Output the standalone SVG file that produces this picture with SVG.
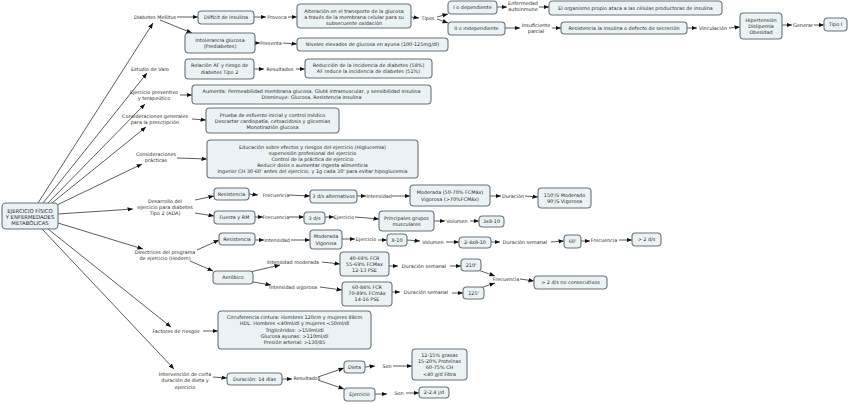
<svg xmlns="http://www.w3.org/2000/svg" width="848" height="404" viewBox="0 0 848 404">
<defs>
<marker id="ah" markerUnits="userSpaceOnUse" markerWidth="6" markerHeight="5" refX="5.5" refY="2.2" orient="auto"><path d="M0,0 L5.5,2.2 L0,4.4 z" fill="#111"/></marker>
<style>
.b{fill:#ebf2f5;stroke:#66727a;stroke-width:1.1}
.t{font-family:"DejaVu Sans",Verdana,sans-serif;font-size:4.9px;fill:#2a2a2a;text-anchor:middle}
.m{font-size:5.3px}
.c line,.c path{stroke:#333;stroke-width:0.8;fill:none;marker-end:url(#ah)}
</style>
</defs>
<rect width="848" height="404" fill="#fff"/>
<g class="c">
<line x1="38" y1="203" x2="153" y2="23"/>
<line x1="43" y1="203" x2="147" y2="73"/>
<line x1="48" y1="203" x2="145" y2="104"/>
<line x1="52" y1="203" x2="146" y2="127"/>
<line x1="57" y1="205" x2="142" y2="164"/>
<line x1="58" y1="214" x2="133" y2="209"/>
<line x1="58" y1="223" x2="143" y2="249"/>
<line x1="48" y1="229" x2="171" y2="327"/>
<line x1="42" y1="229" x2="174" y2="369"/>
<line x1="177" y1="17" x2="198" y2="17"/>
<line x1="160" y1="20" x2="192" y2="33"/>
<line x1="254" y1="17" x2="266" y2="17"/>
<line x1="288" y1="17" x2="297" y2="17"/>
<line x1="411" y1="17" x2="419" y2="18"/>
<line x1="437" y1="17" x2="448" y2="14"/>
<line x1="437" y1="19" x2="448" y2="23"/>
<line x1="497" y1="7" x2="507" y2="7"/>
<line x1="539" y1="7" x2="549" y2="7"/>
<line x1="505" y1="28" x2="520" y2="28"/>
<line x1="552" y1="28" x2="561" y2="28"/>
<line x1="687" y1="28" x2="697" y2="28"/>
<line x1="729" y1="28" x2="740" y2="27"/>
<line x1="782" y1="25" x2="792" y2="25"/>
<line x1="814" y1="25" x2="824" y2="25"/>
<line x1="255" y1="43" x2="260" y2="43"/>
<line x1="283" y1="43" x2="297" y2="44"/>
<line x1="254" y1="69" x2="264" y2="69"/>
<line x1="296" y1="69" x2="305" y2="69"/>
<line x1="180" y1="95" x2="192" y2="95"/>
<line x1="192" y1="119" x2="206" y2="120"/>
<line x1="177" y1="158" x2="207" y2="159"/>
<line x1="195" y1="200" x2="214" y2="196"/>
<line x1="195" y1="213" x2="214" y2="216"/>
<line x1="249" y1="194" x2="258" y2="195"/>
<line x1="289" y1="195" x2="310" y2="196"/>
<line x1="357" y1="196" x2="366" y2="196"/>
<line x1="392" y1="196" x2="410" y2="196"/>
<line x1="490" y1="196" x2="501" y2="196"/>
<line x1="525" y1="196" x2="538" y2="197"/>
<line x1="255" y1="217" x2="263" y2="217"/>
<line x1="289" y1="217" x2="304" y2="217"/>
<line x1="325" y1="217" x2="334" y2="217"/>
<line x1="355" y1="217" x2="379" y2="219"/>
<line x1="434" y1="221" x2="445" y2="221"/>
<line x1="470" y1="221" x2="479" y2="221"/>
<line x1="197" y1="250" x2="219" y2="240"/>
<line x1="190" y1="261" x2="213" y2="271"/>
<line x1="255" y1="240" x2="264" y2="240"/>
<line x1="291" y1="240" x2="310" y2="240"/>
<line x1="342" y1="239" x2="355" y2="239"/>
<line x1="378" y1="240" x2="387" y2="240"/>
<line x1="407" y1="240" x2="420" y2="241"/>
<line x1="446" y1="242" x2="459" y2="242"/>
<line x1="491" y1="242" x2="500" y2="242"/>
<line x1="551" y1="242" x2="564" y2="241"/>
<line x1="581" y1="241" x2="590" y2="241"/>
<line x1="619" y1="240" x2="632" y2="240"/>
<line x1="250" y1="272" x2="280" y2="265"/>
<line x1="322" y1="262" x2="340" y2="264"/>
<line x1="253" y1="282" x2="271" y2="285"/>
<line x1="320" y1="287" x2="342" y2="290"/>
<line x1="389" y1="266" x2="398" y2="266"/>
<line x1="450" y1="266" x2="461" y2="266"/>
<line x1="392" y1="292" x2="400" y2="292"/>
<line x1="452" y1="293" x2="463" y2="293"/>
<line x1="478" y1="270" x2="495" y2="276"/>
<line x1="480" y1="288" x2="495" y2="283"/>
<line x1="520" y1="279" x2="534" y2="281"/>
<line x1="203" y1="331" x2="218" y2="331"/>
<line x1="213" y1="377" x2="227" y2="378"/>
<line x1="282" y1="379" x2="292" y2="379"/>
<line x1="318" y1="377" x2="344" y2="368"/>
<line x1="318" y1="380" x2="344" y2="389"/>
<line x1="365" y1="367" x2="375" y2="366"/>
<line x1="393" y1="366" x2="412" y2="366"/>
<line x1="375" y1="394" x2="387" y2="394"/>
<line x1="406" y1="393" x2="419" y2="393"/>
</g>
<g id="labels" class="t">
<text x="155" y="18.7">Diabetes Mellitus</text>
<text x="150" y="70.7">Estudio de Varo</text>
<text x="154" y="93.7">Ejercicio preventivo</text>
<text x="154" y="100.2">y terapeútico</text>
<text x="155" y="117.7">Consideraciones generales</text>
<text x="155" y="123.7">para la prescripción</text>
<text x="156" y="155.7">Consideraciones</text>
<text x="156" y="161.7">prácticas</text>
<text x="165" y="202.7">Desarrollo del</text>
<text x="165" y="208.7">ejercicio para diabetes</text>
<text x="165" y="214.7">Tipo 2 (ADA)</text>
<text x="165" y="253.7">Directrices del programa</text>
<text x="165" y="259.7">de ejercicio (Hodern)</text>
<text x="176" y="332.7">Factores de riesgos</text>
<text x="185" y="375.7">Intervención de corta</text>
<text x="185" y="382">duración de dieta y</text>
<text x="185" y="388.5">ejercicio</text>
<text x="277" y="18.7">Provoca</text>
<text x="428" y="19.7">Tipos</text>
<text x="523" y="5.2">Enfermedad</text>
<text x="523" y="11.2">autoinmune</text>
<text x="536" y="26.7">Insuficiente</text>
<text x="536" y="33.2">parcial</text>
<text x="713" y="30.2">Vinculación</text>
<text x="803" y="27.2">Generar</text>
<text x="271" y="45.2">Presenta</text>
<text x="280" y="71.2">Resultados</text>
<text x="276" y="196.7">Frecuencia</text>
<text x="379" y="197.7">Intensidad</text>
<text x="513" y="197.7">Duración</text>
<text x="276" y="218.7">Frecuencia</text>
<text x="344" y="218.7">Ejercicio</text>
<text x="457" y="222.7">Volumen</text>
<text x="277" y="241.7">Intensidad</text>
<text x="366" y="241.2">Ejercicio</text>
<text x="433" y="244.2">Volumen</text>
<text x="525" y="243.7">Duración semanal</text>
<text x="604" y="242.2">Frecuencia</text>
<text x="293" y="263.7">Intensidad moderada</text>
<text x="293" y="288.7">Intensidad vigorosa</text>
<text x="424" y="267.7">Duración semanal</text>
<text x="426" y="293.7">Duración semanal</text>
<text x="506" y="280.7">Frecuencia</text>
<text x="307" y="379.7">Resultados</text>
<text x="387" y="367.7">Son</text>
<text x="399" y="394.7">Son</text>
</g>
<g id="main"><rect class="b" x="2" y="203" width="56" height="26" rx="4"/><text class="t m" x="30" y="212.9">EJERCICIO FÍSICO</text><text class="t m" x="30" y="218.9">Y ENFERMEDADES</text><text class="t m" x="30" y="224.9">METABÓLICAS</text></g>
<g id="deficit"><rect class="b" x="198" y="11" width="56" height="13" rx="3.5"/><text class="t" x="226" y="19.2">Déficit de insulina</text></g>
<g id="intol"><rect class="b" x="185" y="33" width="70" height="20" rx="3.5"/><text class="t" x="220" y="41.7">Intolerancia glucosa</text><text class="t" x="220" y="47.7">(Prediabetes)</text></g>
<g id="alter"><rect class="b" x="297" y="4" width="114" height="24" rx="3.5"/><text class="t" x="354" y="12.7">Alteración en el transporte de la glucosa</text><text class="t" x="354" y="18.7">a través de la membrana celular para su</text><text class="t" x="354" y="24.7">subsecuente oxidación</text></g>
<g id="tipo1dep"><rect class="b" x="448" y="1" width="49" height="13" rx="3.5"/><text class="t" x="472.5" y="9.2">I o dependiente</text></g>
<g id="tipo2ind"><rect class="b" x="448" y="22" width="57" height="13" rx="3.5"/><text class="t" x="476.5" y="30.2">II o independiente</text></g>
<g id="organismo"><rect class="b" x="549" y="1" width="173" height="14" rx="3.5"/><text class="t" x="635.5" y="9.7">El organismo propio ataca a las células productoras de insulina</text></g>
<g id="resistencia"><rect class="b" x="561" y="22" width="126" height="12" rx="3.5"/><text class="t" x="624" y="29.7">Resistencia la insulina o defecto de secreción</text></g>
<g id="hiper"><rect class="b" x="740" y="13" width="42" height="26" rx="3.5"/><text class="t" x="761" y="21.7">Hipertensión</text><text class="t" x="761" y="27.7">Dislipemia</text><text class="t" x="761" y="33.7">Obesidad</text></g>
<g id="tipoI"><rect class="b" x="824" y="18" width="23" height="13" rx="3.5"/><text class="t" x="835.5" y="26.2">Tipo I</text></g>
<g id="niveles"><rect class="b" x="297" y="38" width="151" height="13" rx="3.5"/><text class="t" x="372.5" y="46.2">Niveles elevados de glucosa en ayuna (100-125mg/dl)</text></g>
<g id="relacion"><rect class="b" x="185" y="59" width="69" height="20" rx="3.5"/><text class="t" x="219.5" y="67.2">Relación AF y riesgo de</text><text class="t" x="219.5" y="73.7">diabetes Tipo 2</text></g>
<g id="reduccion"><rect class="b" x="305" y="59" width="127" height="19" rx="3.5"/><text class="t" x="368.5" y="67.2">Reducción de la incidencia de diabetes (58%)</text><text class="t" x="368.5" y="73.2">AF reduce la incidencia de diabetes (51%)</text></g>
<g id="aumenta"><rect class="b" x="192" y="85" width="239" height="19" rx="3.5"/><text class="t" x="311.5" y="93.2">Aumenta: Permeabilidad membrana glucosa, Glut4 intramuscular, y sensibilidad insulina</text><text class="t" x="311.5" y="99.2">Disminuye: Glucosa, Resistencia insulina</text></g>
<g id="prueba"><rect class="b" x="206" y="108" width="133" height="25" rx="3.5"/><text class="t" x="272.5" y="117.2">Prueba de esfuerzo inicial y control médico</text><text class="t" x="272.5" y="123">Descartar cardiopatía, cetoacidosis y glicemias</text><text class="t" x="272.5" y="128.7">Monotirazión glucosa</text></g>
<g id="educacion"><rect class="b" x="207" y="140" width="211" height="38" rx="3.5"/><text class="t" x="312.5" y="149.2">Educación sobre efectos y riesgos del ejercicio (Higlucemia)</text><text class="t" x="312.5" y="155.2">supervisión profesional del ejercicio</text><text class="t" x="312.5" y="161.2">Control de la práctica de ejercicio</text><text class="t" x="312.5" y="167.2">Reducir dosis o aumentar ingesta alimenticia</text><text class="t" x="312.5" y="173.2">Ingerior CH 30-60' antes del ejercicio, y 1g cada 30' para evitar hipoglucemia</text></g>
<g id="resist1"><rect class="b" x="214" y="188" width="35" height="12" rx="3.5"/><text class="t" x="231.5" y="195.7">Resistencia</text></g>
<g id="tresdsalt"><rect class="b" x="310" y="190" width="47" height="13" rx="3.5"/><text class="t" x="333.5" y="198.2">3 d/s alternativos</text></g>
<g id="moderada1"><rect class="b" x="410" y="185" width="80" height="21" rx="3.5"/><text class="t" x="450" y="194.2">Moderada (50-70% FCMáx)</text><text class="t" x="450" y="200.7">Vigorosa (&gt;70%FCMáx)</text></g>
<g id="c150"><rect class="b" x="538" y="188" width="53" height="20" rx="3.5"/><text class="t" x="564.5" y="196.7">150'/S Moderado</text><text class="t" x="564.5" y="203.2">90'/S Vigorosa</text></g>
<g id="fuerza"><rect class="b" x="214" y="211" width="41" height="13" rx="3.5"/><text class="t" x="234.5" y="219.2">Fuerza y RM</text></g>
<g id="tresds"><rect class="b" x="304" y="212" width="21" height="12" rx="3.5"/><text class="t" x="314.5" y="219.7">3 d/s</text></g>
<g id="principales"><rect class="b" x="379" y="211" width="55" height="20" rx="3.5"/><text class="t" x="406.5" y="219.7">Principales grupos</text><text class="t" x="406.5" y="225.7">musculares</text></g>
<g id="x3810"><rect class="b" x="479" y="216" width="25" height="11" rx="3.5"/><text class="t" x="491.5" y="223.2">3x8-10</text></g>
<g id="resist2"><rect class="b" x="219" y="233" width="36" height="12" rx="3.5"/><text class="t" x="237" y="240.7">Resistencia</text></g>
<g id="modvig"><rect class="b" x="310" y="230" width="32" height="19" rx="3.5"/><text class="t" x="326" y="238.2">Moderada</text><text class="t" x="326" y="244.7">Vigorosa</text></g>
<g id="ocho"><rect class="b" x="387" y="234" width="20" height="12" rx="3.5"/><text class="t" x="397" y="241.7">8-10</text></g>
<g id="x248"><rect class="b" x="459" y="237" width="32" height="11" rx="3.5"/><text class="t" x="475" y="244.2">2-4x8-10</text></g>
<g id="sesenta"><rect class="b" x="564" y="235" width="17" height="13" rx="3.5"/><text class="t" x="572.5" y="243.2">60'</text></g>
<g id="dosds"><rect class="b" x="632" y="233" width="29" height="13" rx="3.5"/><text class="t" x="646.5" y="241.2">&gt; 2 d/s</text></g>
<g id="aerobico"><rect class="b" x="213" y="271" width="40" height="13" rx="3.5"/><text class="t" x="233" y="279.2">Aeróbico</text></g>
<g id="c4069"><rect class="b" x="340" y="252" width="49" height="24" rx="3.5"/><text class="t" x="364.5" y="259.7">40-69% FCR</text><text class="t" x="364.5" y="265.7">55-69% FCMax</text><text class="t" x="364.5" y="272.2">12-13 PSE</text></g>
<g id="c6084"><rect class="b" x="342" y="282" width="50" height="24" rx="3.5"/><text class="t" x="367" y="289.2">60-84% FCR</text><text class="t" x="367" y="294.7">70-89% FCmáx</text><text class="t" x="367" y="301.2">14-16 PSE</text></g>
<g id="c210"><rect class="b" x="461" y="259" width="20" height="12" rx="3.5"/><text class="t" x="471" y="267.2">210'</text></g>
<g id="c125"><rect class="b" x="463" y="287" width="21" height="12" rx="3.5"/><text class="t" x="473.5" y="294.7">125'</text></g>
<g id="nocons"><rect class="b" x="534" y="276" width="73" height="13" rx="3.5"/><text class="t" x="570.5" y="284.2">&gt; 2 d/s no consecutivos</text></g>
<g id="factores"><rect class="b" x="218" y="311" width="153" height="38" rx="3.5"/><text class="t" x="294.5" y="319.2">Circuferencia cintura: Hombres 120cm y mujeres 88cm</text><text class="t" x="294.5" y="325.2">HDL: Hombres &lt;40ml/dl y mujeres &lt;50ml/dl</text><text class="t" x="294.5" y="331.7">Triglicéridos:  &gt;150ml/dl</text><text class="t" x="294.5" y="337.7">Glucosa ayunas:  &gt;110ml/dl</text><text class="t" x="294.5" y="344.2">Presión arterial:  &gt;130/85</text></g>
<g id="duracion14"><rect class="b" x="227" y="373" width="55" height="12" rx="3.5"/><text class="t" x="254.5" y="380.7">Duración: 14 días</text></g>
<g id="dieta"><rect class="b" x="344" y="361" width="21" height="12" rx="3.5"/><text class="t" x="354.5" y="368.7">Dieta</text></g>
<g id="ejercicio"><rect class="b" x="344" y="388" width="31" height="13" rx="3.5"/><text class="t" x="359.5" y="396.2">Ejercicio</text></g>
<g id="grasas"><rect class="b" x="412" y="349" width="55" height="31" rx="3.5"/><text class="t" x="439.5" y="356.7">12-15% grasas</text><text class="t" x="439.5" y="362.7">15-20% Proteínas</text><text class="t" x="439.5" y="369.2">60-75% CH</text><text class="t" x="439.5" y="375.7">&lt;40 g/d Fibra</text></g>
<g id="jd"><rect class="b" x="419" y="387" width="30" height="11" rx="3.5"/><text class="t" x="434" y="394.2">2-2.4 j/d</text></g>
</svg>
